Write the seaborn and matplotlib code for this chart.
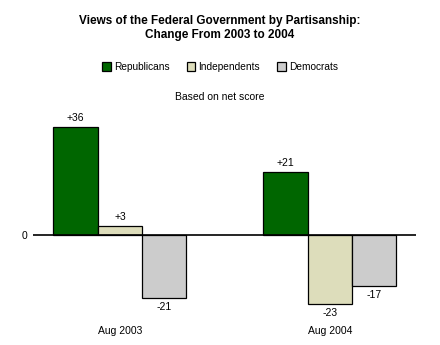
import matplotlib
matplotlib.use("Agg")
import matplotlib.pyplot as plt
import seaborn as sns
import pandas as pd

periods = ["Aug 2003", "Aug 2004"]
groups = ["Republicans", "Independents", "Democrats"]
rep = [36, 21]
ind = [3, -23]
dem = [-21, -17]
colors = ["#006600", "#DDDDBB", "#CCCCCC"]

rows = []
for i, p in enumerate(periods):
    for g, vals in zip(groups, [rep, ind, dem]):
        rows.append({"period": p, "group": g, "value": vals[i]})
df = pd.DataFrame(rows)

sns.set_style("white")
plt.rcParams["font.family"] = ["Liberation Sans", "DejaVu Sans"]
plt.rcParams["text.color"] = "black"
plt.rcParams["xtick.color"] = "black"
plt.rcParams["ytick.color"] = "black"

fig = plt.figure(figsize=(4.4, 3.45), dpi=100)
ax = fig.add_axes([0.075, 0.1006, 0.8705, 0.5652])

sns.barplot(data=df, x="period", y="value", hue="group", order=periods,
            hue_order=groups, palette=colors, width=0.633, dodge=True,
            edgecolor="black", linewidth=0.9, errorbar=None, ax=ax,
            saturation=1, legend=True)

ax.set_xlim(-0.414, 1.41)
ax.set_ylim(-25, 40)
ax.axhline(0, color="black", lw=1.2, zorder=5)
for s in ax.spines.values():
    s.set_visible(False)
ax.set_yticks([0])
ax.set_yticklabels(["0"])
ax.tick_params(axis="y", length=0, pad=4, labelsize=7.5, labelcolor="black")
ax.tick_params(axis="x", length=0, pad=11, labelsize=7.5, labelcolor="black")
ax.set_xlabel("")
ax.set_ylabel("")

for cont in ax.containers:
    for bar, v in zip(cont, cont.datavalues):
        x = bar.get_x() + bar.get_width() / 2
        if v >= 0:
            ax.annotate(f"+{int(v)}", (x, v), xytext=(0, 7.0), textcoords="offset points",
                        ha="center", va="center", fontsize=7.5, color="black")
        else:
            ax.annotate(f"{int(v)}", (x, v), xytext=(0, -6.0), textcoords="offset points",
                        ha="center", va="center", fontsize=7.5, color="black")

handles, labels = ax.get_legend_handles_labels()
ax.get_legend().remove()
leg = fig.legend(handles, labels, loc="center", bbox_to_anchor=(0.5, 1 - 67 / 345), ncol=3,
                 frameon=False, fontsize=7.3, handlelength=0.85, handleheight=0.85,
                 handletextpad=0.3, columnspacing=1.7)
for t in leg.get_texts():
    t.set_color("black")

fig.text(0.5, 1 - 28 / 345, "Views of the Federal Government by Partisanship:\nChange From 2003 to 2004",
         ha="center", va="center", fontsize=8.5, fontweight="bold", linespacing=1.2, color="black")
fig.text(0.5, 1 - 97 / 345, "Based on net score", ha="center", va="center", fontsize=7.5, color="black")

fig.savefig("out.png", dpi=100)
